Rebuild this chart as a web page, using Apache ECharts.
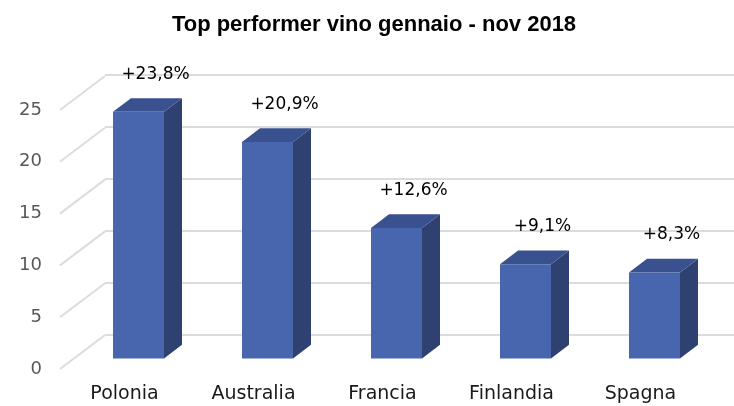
<!DOCTYPE html>
<html>
<head>
    <meta charset="UTF-8">
    <title>Top performer vino</title>
    <script src="https://cdn.jsdelivr.net/npm/echarts@6/dist/echarts.min.js"></script>
    <style>
        html, body { margin: 0; padding: 0; background: #fff; }
    </style>
</head>
<body>
    <div id="main" style="width: 734px;height:406px;"></div>

    <script type="text/javascript">
        // dati
        var paesi = ['Polonia', 'Australia', 'Francia', 'Finlandia', 'Spagna'];
        var crescita = [23.8, 20.9, 12.6, 9.1, 8.3];
        var etichette = ['+23,8%', '+20,9%', '+12,6%', '+9,1%', '+8,3%'];
        var tickY = [0, 5, 10, 15, 20, 25];

        // prospettiva finta 3D (px)
        var DX = 45, DY = 34;       // dal piano frontale alla parete di fondo
        var OFF = 14, LARGH = 51;   // rientro e larghezza faccia frontale
        var PX = 18, PY = 13.6;     // profondità della barra

        var myChart = echarts.init(document.getElementById('main'));

        myChart.setOption({
            animation: false,
            title: {
                text: 'Top performer vino gennaio - nov 2018',
                left: 369,
                textAlign: 'center',
                top: 9,
                textStyle: {
                    fontFamily: 'Liberation Sans',
                    fontWeight: 'bold',
                    fontSize: 22,
                    color: '#000'
                }
            },
            grid: [
                // parete di fondo
                { left: 105, width: 645, top: 75, height: 260 },
                // piano frontale
                { left: 60, width: 645, top: 110, height: 259 }
            ],
            xAxis: [
                {
                    gridIndex: 0, type: 'category', data: paesi,
                    axisLine: { show: false }, axisTick: { show: false }, axisLabel: { show: false }
                },
                {
                    gridIndex: 1, type: 'category', data: paesi,
                    axisLine: { show: false }, axisTick: { show: false },
                    axisLabel: {
                        margin: 16,
                        fontFamily: 'DejaVu Sans',
                        fontSize: 19,
                        color: '#1a1a1a'
                    }
                }
            ],
            yAxis: [
                {
                    gridIndex: 0, type: 'value', min: 0, max: 25, interval: 5,
                    axisLine: { show: false }, axisTick: { show: false }, axisLabel: { show: false },
                    splitLine: { lineStyle: { color: '#dcdcdc', width: 2 } }
                },
                {
                    gridIndex: 1, type: 'value', min: 0, max: 25, interval: 5,
                    axisLine: { show: false }, axisTick: { show: false },
                    splitLine: { show: false },
                    axisLabel: {
                        margin: 18,
                        fontFamily: 'DejaVu Sans',
                        fontSize: 18,
                        color: '#595959'
                    }
                }
            ],
            series: [
                {
                    // linee diagonali della parete laterale
                    type: 'custom',
                    xAxisIndex: 1,
                    yAxisIndex: 1,
                    silent: true,
                    data: tickY.map(function (v) { return [0, v]; }),
                    renderItem: function (params, api) {
                        var p = api.coord([0, api.value(1)]);
                        var x0 = params.coordSys.x;
                        return {
                            type: 'line',
                            shape: { x1: x0, y1: p[1], x2: x0 + DX, y2: p[1] - DY },
                            style: { stroke: '#dcdcdc', lineWidth: 2 }
                        };
                    }
                },
                {
                    type: 'custom',
                    xAxisIndex: 1,
                    yAxisIndex: 1,
                    data: crescita.map(function (v, i) { return [i, v]; }),
                    renderItem: function (params, api) {
                        var i = api.value(0);
                        var base = api.coord([i, 0]);
                        var top = api.coord([i, api.value(1)]);
                        // faccia frontale spostata verso il fondo di OFF px
                        var x0 = base[0] - LARGH / 2 + OFF;
                        var sy = OFF * DY / DX;
                        var yb = base[1] - sy;
                        var yt = top[1] - sy;
                        var x1 = x0 + LARGH;
                        return {
                            type: 'group',
                            children: [
                                {
                                    type: 'polygon',
                                    shape: { points: [[x1, yt], [x1 + PX, yt - PY], [x1 + PX, yb - PY], [x1, yb]] },
                                    style: { fill: '#2f4170' }
                                },
                                {
                                    type: 'polygon',
                                    shape: { points: [[x0, yt], [x1, yt], [x1 + PX, yt - PY], [x0 + PX, yt - PY]] },
                                    style: { fill: '#3a5190' }
                                },
                                {
                                    type: 'rect',
                                    shape: { x: x0, y: yt, width: LARGH, height: yb - yt },
                                    style: { fill: '#4766ad' }
                                },
                                {
                                    type: 'text',
                                    x: x0 + LARGH / 2 + 17,
                                    y: yt - PY - 24,
                                    style: {
                                        text: etichette[i],
                                        align: 'center',
                                        verticalAlign: 'middle',
                                        fontFamily: 'DejaVu Sans',
                                        fontSize: 17,
                                        fill: '#000'
                                    }
                                }
                            ]
                        };
                    }
                }
            ]
        });
    </script>
</body>
</html>
